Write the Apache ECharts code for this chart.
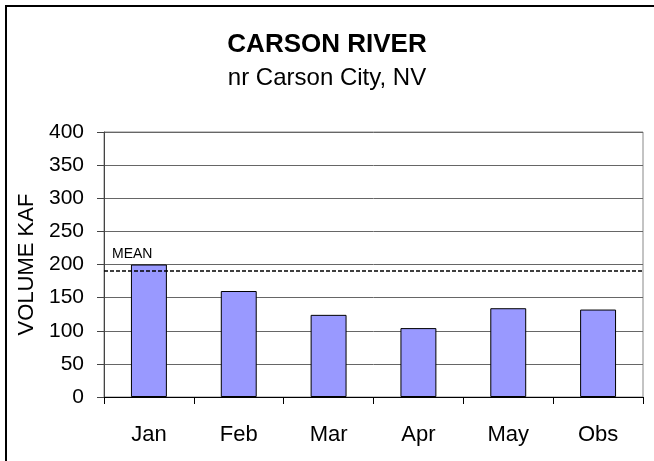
<!DOCTYPE html>
<html>
<head>
<meta charset="utf-8">
<title>Carson River</title>
<script src="https://cdn.jsdelivr.net/npm/echarts@6/dist/echarts.min.js"></script>
<style>
  html, body { margin: 0; padding: 0; background: #fff; }
  #main { width: 654px; height: 461px; }
</style>
</head>
<body>
<div id="main"></div>
<script type="text/javascript">
    var months = ['Jan', 'Feb', 'Mar', 'Apr', 'May', 'Obs'];
    var volume = [200, 160, 124, 104, 134, 132];
    var meanValue = 190;
    var yTicks = { min: 0, max: 400, interval: 50 };

    var font = '"Liberation Sans", Arial, sans-serif';
    var myChart = echarts.init(document.getElementById('main'));

    myChart.setOption({
        animation: false,
        textStyle: { fontFamily: font, color: '#000' },
        // titles sit a little right of the page centre, as in the original
        title: [{
            text: 'CARSON RIVER',
            left: 'center',
            top: 32,
            padding: [0, 0, 0, 10],
            textStyle: { fontFamily: font, fontSize: 26, fontWeight: 'bold', color: '#000' }
        }, {
            text: 'nr Carson City, NV',
            left: 'center',
            top: 66,
            padding: [0, 0, 0, 8],
            textStyle: { fontFamily: font, fontSize: 24, fontWeight: 'normal', color: '#000' }
        }],
        // outer frame
        graphic: [{
            type: 'rect',
            shape: { x: 6, y: 6, width: 700, height: 500 },
            style: { fill: 'none', stroke: '#000', lineWidth: 2 },
            silent: true
        }],
        grid: {
            left: 104, right: 11, top: 132, bottom: 64,
            show: true, borderColor: '#888', borderWidth: 1
        },
        xAxis: {
            type: 'category',
            data: months,
            axisLine: { lineStyle: { color: '#000', width: 1 } },
            axisTick: { show: true, length: 7, lineStyle: { color: '#000' } },
            axisLabel: { fontFamily: font, fontSize: 22, color: '#000', margin: 27 }
        },
        yAxis: {
            type: 'value',
            min: yTicks.min,
            max: yTicks.max,
            interval: yTicks.interval,
            name: 'VOLUME KAF',
            nameLocation: 'middle',
            nameRotate: 90,
            nameGap: 64,
            nameTextStyle: { fontFamily: font, fontSize: 22, color: '#000' },
            axisLine: { show: true, lineStyle: { color: '#444', width: 1 } },
            axisTick: { show: true, length: 7, lineStyle: { color: '#444' } },
            axisLabel: { fontFamily: font, fontSize: 21, color: '#000', margin: 20 },
            splitLine: { show: true, lineStyle: { color: '#666', width: 1 } }
        },
        series: [{
            type: 'bar',
            data: volume,
            barWidth: '40%',
            itemStyle: { color: '#9999ff', borderColor: '#000', borderWidth: 1 },
            markLine: {
                silent: true,
                symbol: ['none', 'none'],
                data: [{ yAxis: meanValue }],
                lineStyle: { color: '#000', type: [4, 2], width: 1.6 },
                label: {
                    show: true,
                    formatter: 'MEAN',
                    position: 'insideStartTop',
                    distance: [8, 10],
                    fontFamily: font,
                    fontSize: 14,
                    color: '#000'
                }
            }
        }]
    });
</script>
</body>
</html>
